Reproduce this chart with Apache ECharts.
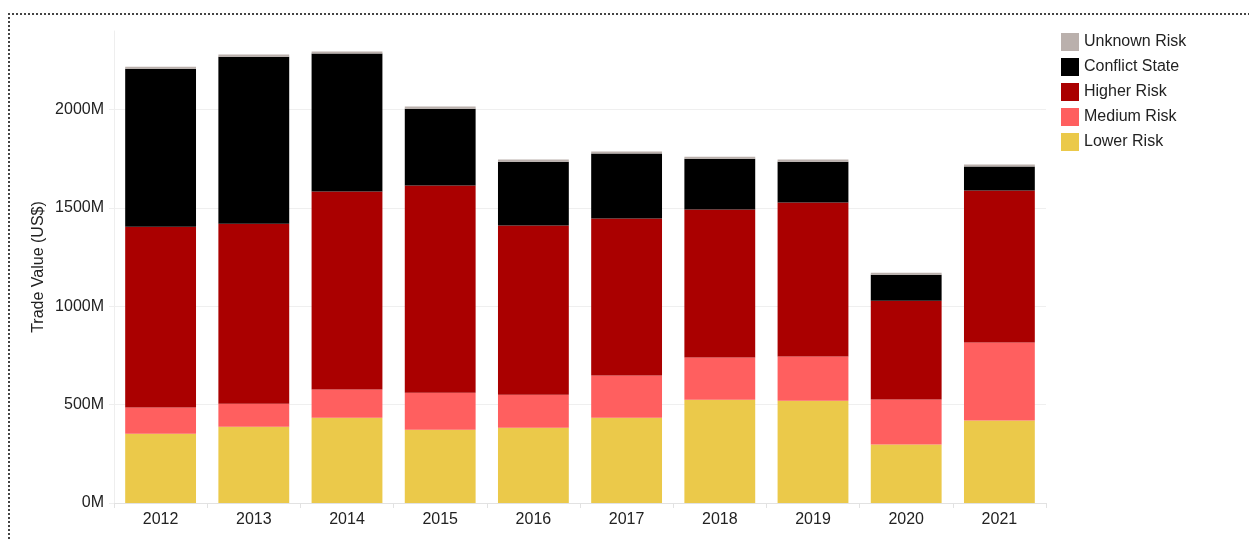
<!DOCTYPE html>
<html>
<head>
<meta charset="utf-8">
<script src="https://cdn.jsdelivr.net/npm/echarts@6/dist/echarts.min.js"></script>
<style>
  html, body { margin: 0; padding: 0; background: #fff; }
  #wrap { position: relative; width: 1249px; height: 541px; overflow: hidden; }
  #frame {
    position: absolute; left: 8px; top: 13px; width: 1400px; height: 700px;
    border-top: 2px dotted #444; border-left: 2px dotted #444;
  }
  #chart { position: absolute; left: 0; top: 0; width: 1249px; height: 541px; }
</style>
</head>
<body>
<div id="wrap">
  <div id="frame"></div>
  <div id="chart"></div>
</div>
<script>
// values in millions of US$
const years = ['2012', '2013', '2014', '2015', '2016', '2017', '2018', '2019', '2020', '2021']
const lowerRisk = [352, 388, 434, 373, 383, 434, 525, 520, 297, 419]
const mediumRisk = [133, 117, 143, 188, 168, 214, 215, 225, 229, 397]
const higherRisk = [920, 915, 1007, 1054, 860, 798, 752, 783, 503, 773]
const conflictState = [803, 849, 701, 390, 324, 331, 259, 207, 132, 122]
const unknownRisk = [10, 11, 11, 11, 11, 10, 10, 11, 10, 10]
const yTicks = [0, 500, 1000, 1500, 2000]

const font = "'Liberation Sans', Arial, sans-serif"

const chart = echarts.init(document.getElementById('chart'))

function bar(name, data, color) {
  return {
    name,
    type: 'bar',
    stack: 'total',
    data,
    barCategoryGap: '24%',
    itemStyle: { color },
    emphasis: { disabled: true }
  }
}

chart.setOption({
  animation: false,
  textStyle: { fontFamily: font },
  grid: { left: 114, right: 203, top: 31, bottom: 38 },
  legend: {
    orient: 'vertical',
    left: 1056,
    top: 28,
    itemWidth: 18,
    itemHeight: 18,
    itemGap: 7,
    icon: 'rect',
    data: ['Unknown Risk', 'Conflict State', 'Higher Risk', 'Medium Risk', 'Lower Risk'],
    textStyle: { fontSize: 16, color: '#222', fontFamily: font }
  },
  xAxis: {
    type: 'category',
    data: years,
    axisLine: { lineStyle: { color: '#e2e2e2' } },
    axisTick: { show: true, length: 5, lineStyle: { color: '#e2e2e2' } },
    axisLabel: { fontSize: 16, color: '#222', margin: 9, fontFamily: font }
  },
  yAxis: {
    type: 'value',
    min: 0,
    max: 2400,
    interval: 500,
    name: 'Trade Value (US$)',
    nameLocation: 'middle',
    nameGap: 67,
    nameMoveOverlap: false,
    nameTextStyle: { fontSize: 16, color: '#222', fontFamily: font },
    axisLine: { show: true, lineStyle: { color: '#eeeeee' } },
    axisTick: { show: true, length: 5, lineStyle: { color: '#eeeeee' } },
    splitLine: { show: true, showMaxLine: false, lineStyle: { color: '#efefef' } },
    axisLabel: {
      fontSize: 16,
      color: '#222',
      margin: 10,
      fontFamily: font,
      showMaxLabel: false,
      formatter: v => (yTicks.includes(v) ? v + 'M' : '')
    }
  },
  series: [
    bar('Lower Risk', lowerRisk, '#ebc94a'),
    bar('Medium Risk', mediumRisk, '#ff5f5f'),
    bar('Higher Risk', higherRisk, '#aa0000'),
    bar('Conflict State', conflictState, '#000000'),
    bar('Unknown Risk', unknownRisk, '#bab0ac')
  ]
})
</script>
</body>
</html>
